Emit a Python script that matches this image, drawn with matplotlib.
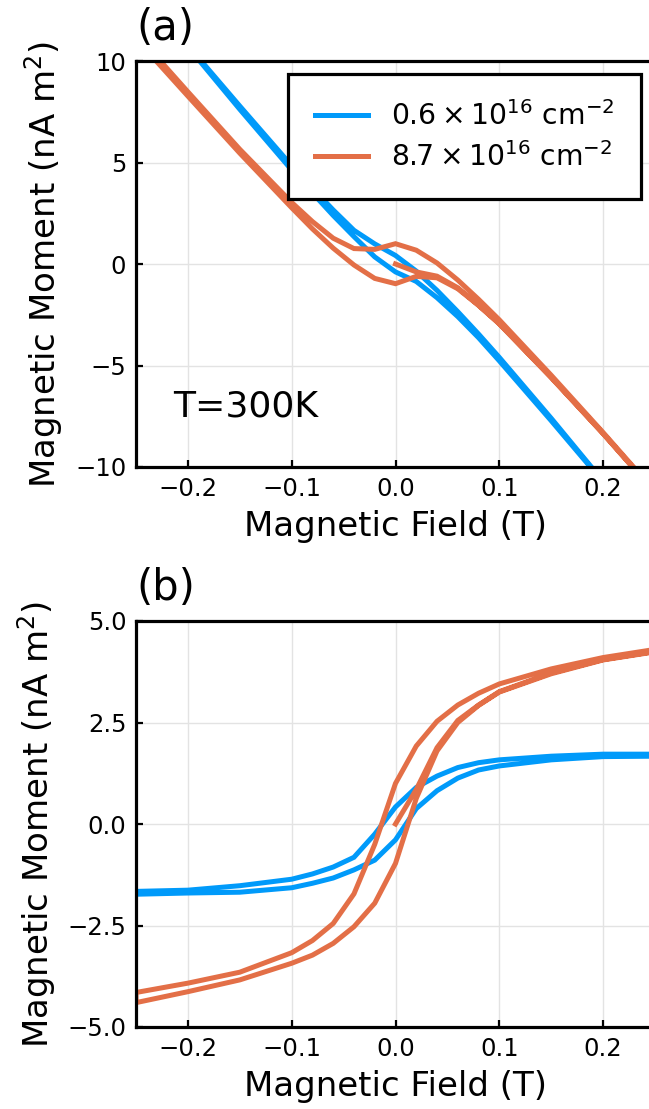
import matplotlib
matplotlib.use("Agg")
import matplotlib.pyplot as plt
import numpy as np

# ---------------- data ----------------
H_virgin = [0.0, 0.02, 0.04, 0.06, 0.08, 0.1, 0.15, 0.2, 0.25]
H_down = [0.25, 0.2, 0.15, 0.1, 0.08, 0.06, 0.04, 0.02, 0.0,
          -0.02, -0.04, -0.06, -0.08, -0.1, -0.15, -0.2, -0.25]
H_up = H_down[::-1]

labels = [r"$0.6\times10^{16}$ cm$^{-2}$", r"$8.7\times10^{16}$ cm$^{-2}$"]
colors = ["#009AFA", "#E36F47"]

# panel (a): raw moment (nA m^2)
a_low_down = [-13.8, -10.7, -7.6, -4.6, -3.45, -2.35, -1.3, -0.35, 0.42,
              0.99, 1.66, 2.66, 3.73, 4.84, 7.78, 10.77, 13.84]
a_low_up = [13.77, 10.70, 7.62, 4.63, 3.50, 2.39, 1.35, 0.35, -0.39,
            -0.86, -1.66, -2.59, -3.63, -4.77, -7.72, -10.74, -13.83]
a_high_virgin = [0.0, -0.39, -0.60, -1.17, -2.03, -2.94, -5.58, -8.35, -11.25]
a_high_down = [-11.2, -8.3, -5.48, -2.75, -1.74, -0.79, 0.05, 0.68, 1.0,
               0.72, 0.76, 1.27, 2.09, 3.03, 5.65, 8.48, 11.35]
a_high_up = [11.1, 8.27, 5.46, 2.77, 1.73, 0.78, -0.05, -0.71, -0.97,
             -0.61, -0.68, -1.22, -2.04, -2.95, -5.6, -8.36, -11.26]

# panel (b): background-subtracted moment (nA m^2)
b_low_down = [1.72, 1.72, 1.67, 1.58, 1.51, 1.39, 1.18, 0.90, 0.42,
              -0.25, -0.82, -1.06, -1.23, -1.36, -1.52, -1.63, -1.66]
b_low_up = [-1.73, -1.70, -1.68, -1.57, -1.46, -1.33, -1.13, -0.89, -0.39,
            0.38, 0.82, 1.13, 1.33, 1.43, 1.58, 1.66, 1.67]
b_high_virgin = [0.0, 0.85, 1.88, 2.55, 2.93, 3.26, 3.72, 4.05, 4.25]
b_high_down = [4.3, 4.1, 3.82, 3.45, 3.22, 2.93, 2.53, 1.92, 1.0,
               -0.5, -1.72, -2.45, -2.87, -3.17, -3.65, -3.92, -4.15]
b_high_up = [-4.4, -4.13, -3.84, -3.43, -3.23, -2.94, -2.53, -1.95, -0.97,
             0.63, 1.8, 2.5, 2.92, 3.25, 3.7, 4.04, 4.24]

xticks = [-0.2, -0.1, 0.0, 0.1, 0.2]
xticklabels = ["\u22120.2", "\u22120.1", "0.0", "0.1", "0.2"]
a_yticks = [-10, -5, 0, 5, 10]
a_yticklabels = ["\u221210", "\u22125", "0", "5", "10"]
b_yticks = [-5.0, -2.5, 0.0, 2.5, 5.0]
b_yticklabels = ["\u22125.0", "\u22122.5", "0.0", "2.5", "5.0"]

plt.rcParams['font.family'] = ['DejaVu Sans']
plt.rcParams['mathtext.fontset'] = 'dejavusans'

W, Hpx = 649, 1109
fig = plt.figure(figsize=(W / 100, Hpx / 100), dpi=100)

def fpos(l, r, t, b):
    return [l / W, 1 - b / Hpx, (r - l) / W, (b - t) / Hpx]

ax_a = fig.add_axes(fpos(136, 655, 61, 467))
ax_b = fig.add_axes(fpos(136, 655, 621, 1027))

lw = 3.6

def style(ax, yticks, yticklabels, ylim):
    ax.set_xlim(-0.25, 0.25)
    ax.set_ylim(*ylim)
    ax.set_xticks(xticks)
    ax.set_xticklabels(xticklabels)
    ax.set_yticks(yticks)
    ax.set_yticklabels(yticklabels)
    ax.grid(True, color='#e3e3e3', linewidth=1.0)
    ax.set_axisbelow(True)
    for s in ax.spines.values():
        s.set_linewidth(2.3)
        s.set_color('black')
    ax.tick_params(direction='in', length=5, width=1.6, labelsize=17.5,
                   top=False, right=False, pad=7)
    ax.set_xlabel("Magnetic Field (T)", fontsize=24.5, labelpad=7)
    ax.set_ylabel("Magnetic Moment (nA m$^2$)", fontsize=24.5, labelpad=7)

def loop(ax, hs, ms, color, label=None):
    ax.plot([h for seg in hs for h in seg], [m for seg in ms for m in seg],
            color=color, lw=lw, label=label, solid_joinstyle='miter')

# panel (a)
loop(ax_a, [H_down, H_up], [a_low_down, a_low_up], colors[0], labels[0])
loop(ax_a, [H_virgin, H_down, H_up], [a_high_virgin, a_high_down, a_high_up],
     colors[1], labels[1])
style(ax_a, a_yticks, a_yticklabels, (-10, 10))
leg = ax_a.legend(loc='upper right', bbox_to_anchor=(0.973, 0.968),
                  borderaxespad=0, fontsize=20.3, frameon=True, fancybox=False,
                  edgecolor='black', framealpha=1, handlelength=1.9,
                  handletextpad=0.8, labelspacing=0.4, borderpad=0.95)
leg.get_frame().set_linewidth(2.3)
for lh in leg.get_lines():
    lh.set_linewidth(3.6)
ax_a.text(0.071, 0.150, "T=300K", transform=ax_a.transAxes, fontsize=26,
          ha='left', va='center')
ax_a.text(0.0, 1.03, "(a)", transform=ax_a.transAxes, fontsize=30,
          ha='left', va='bottom')

# panel (b)
loop(ax_b, [H_down, H_up], [b_low_down, b_low_up], colors[0])
loop(ax_b, [H_virgin, H_down, H_up], [b_high_virgin, b_high_down, b_high_up],
     colors[1])
style(ax_b, b_yticks, b_yticklabels, (-5, 5))
ax_b.text(0.0, 1.03, "(b)", transform=ax_b.transAxes, fontsize=30,
          ha='left', va='bottom')

fig.savefig("out.png", dpi=100)
